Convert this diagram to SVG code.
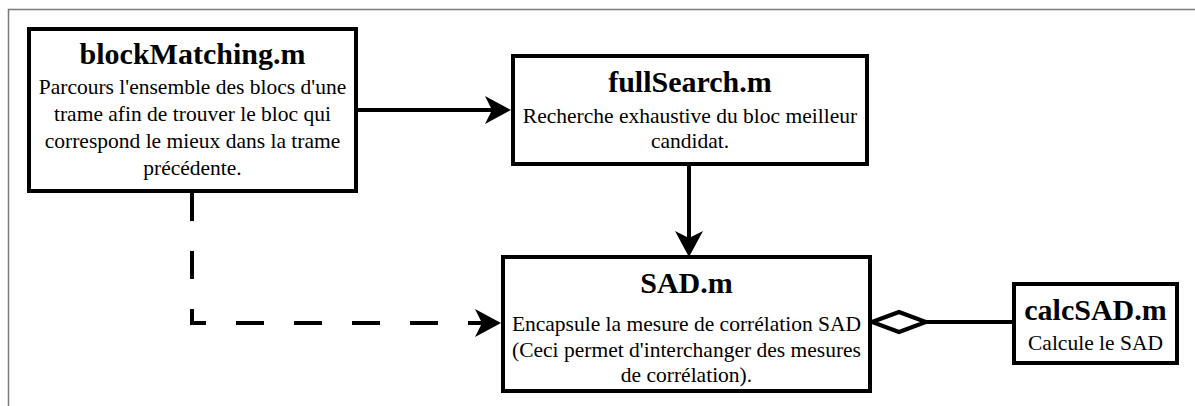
<svg xmlns="http://www.w3.org/2000/svg" width="1195" height="406" viewBox="0 0 1195 406">
<style>
.box{fill:#fff;stroke:#000;stroke-width:4}
.t{font-family:'Liberation Serif','Times New Roman',serif;font-weight:bold;font-size:30px;text-anchor:middle;fill:#000}
.b{font-family:'Liberation Serif','Times New Roman',serif;font-size:21.5px;text-anchor:middle;fill:#000}
.c{fill:none;stroke:#000;stroke-width:4}
</style>
<defs>
<marker id="arr" viewBox="0 0 26 28" refX="18" refY="14" markerWidth="26" markerHeight="28" markerUnits="userSpaceOnUse" orient="auto">
<path d="M0,0 L26,14 L0,28 L7,14 Z" fill="#000"/>
</marker>
</defs>
<rect width="1195" height="406" fill="#fff"/>
<rect x="8.5" y="9.5" width="1200" height="500" fill="none" stroke="#7a7a7a" stroke-width="1.5"/>
<g id="connectors">
<path class="c" d="M358,110 H503" marker-end="url(#arr)"/>
<path class="c" d="M689,166 V249" marker-end="url(#arr)"/>
<path class="c" d="M192,193 V323 H493" stroke-dasharray="28 30" marker-end="url(#arr)"/>
<path class="c" d="M926,322 H1012" stroke-width="3.5"/>
<polygon points="872,322 899,312 926,322 899,332" fill="#fff" stroke="#000" stroke-width="4"/>
</g>
<g id="blockMatching">
<rect class="box" x="29" y="29" width="327" height="162"/>
<text class="t" x="192.5" y="64">blockMatching.m</text>
<text class="b" x="192.5" y="94">Parcours l'ensemble des blocs d'une</text>
<text class="b" x="192.5" y="121">trame afin de trouver le bloc qui</text>
<text class="b" x="192.5" y="148">correspond le mieux dans la trame</text>
<text class="b" x="192.5" y="175">précédente.</text>
</g>
<g id="fullSearch">
<rect class="box" x="513" y="56" width="354" height="108"/>
<text class="t" x="690" y="92">fullSearch.m</text>
<text class="b" x="690" y="123">Recherche exhaustive du bloc meilleur</text>
<text class="b" x="690" y="148">candidat.</text>
</g>
<g id="SAD">
<rect class="box" x="503" y="257" width="367" height="134"/>
<text class="t" x="686.5" y="293">SAD.m</text>
<text class="b" x="686.5" y="331">Encapsule la mesure de corrélation SAD</text>
<text class="b" x="686.5" y="357">(Ceci permet d'interchanger des mesures</text>
<text class="b" x="686.5" y="382">de corrélation).</text>
</g>
<g id="calcSAD">
<rect class="box" x="1014" y="284" width="163" height="79"/>
<text class="t" x="1095.5" y="320">calcSAD.m</text>
<text class="b" x="1095.5" y="350">Calcule le SAD</text>
</g>
</svg>
